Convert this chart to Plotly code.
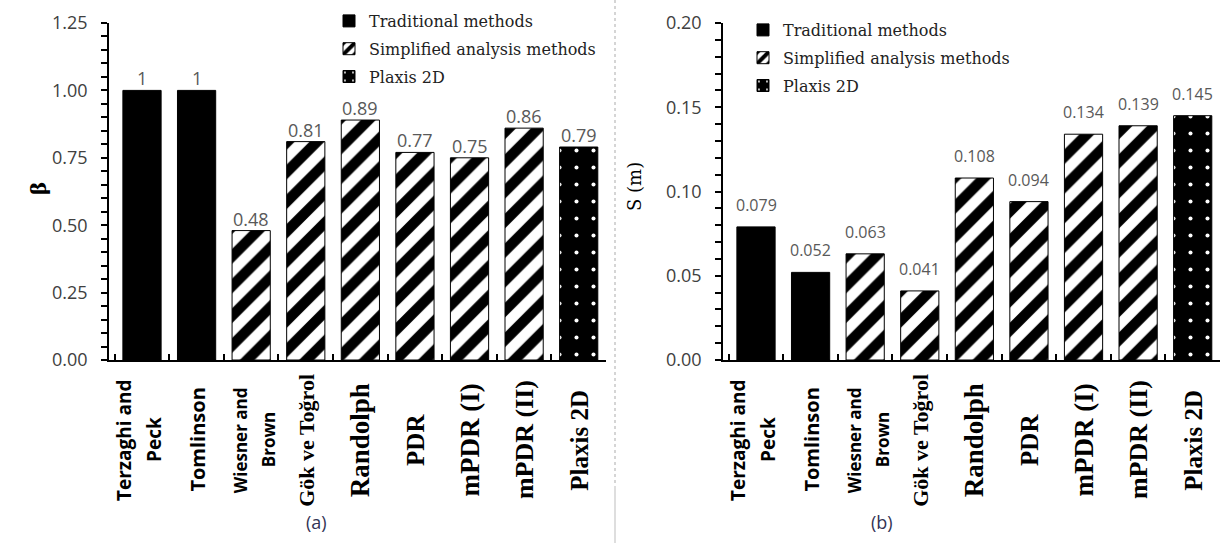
import plotly.graph_objects as go

# ---- data ----
methods = ["Terzaghi and Peck", "Tomlinson", "Wiesner and Brown", "Gök ve Toğrol",
           "Randolph", "PDR", "mPDR (I)", "mPDR (II)", "Plaxis 2D"]
method_group = ["Traditional methods", "Traditional methods",
                "Simplified analysis methods", "Simplified analysis methods",
                "Simplified analysis methods", "Simplified analysis methods",
                "Simplified analysis methods", "Simplified analysis methods",
                "Plaxis 2D"]
beta = [1, 1, 0.48, 0.81, 0.89, 0.77, 0.75, 0.86, 0.79]
settlement = [0.079, 0.052, 0.063, 0.041, 0.108, 0.094, 0.134, 0.139, 0.145]
group_order = ["Traditional methods", "Simplified analysis methods", "Plaxis 2D"]

# y-axis tick positions (labelled every `major`, small marks every `step`)
beta_ticks = dict(top=1.25, step=0.05, major=0.25)
settlement_ticks = dict(top=0.20, step=0.01, major=0.05)

# ---- styling ----
W, H = 1222, 543
SERIF = "DejaVu Serif"
SANS = "Open Sans"

def px_x(p):
    return p / W

def px_y(p):
    return (H - p) / H

def tick_setup(spec):
    n = int(round(spec["top"] / spec["step"]))
    per = int(round(spec["major"] / spec["step"]))
    vals = [round(i * spec["step"], 4) for i in range(n + 1)]
    text = [f"{v:.2f}" if i % per == 0 else "" for i, v in enumerate(vals)]
    return vals, text

group_marker = {
    "Traditional methods": dict(color="black", line=dict(color="black", width=1)),
    "Simplified analysis methods": dict(
        color="white", line=dict(color="black", width=1),
        pattern=dict(shape="/", fgcolor="black", bgcolor="white", fgopacity=1,
                     size=21, solidity=0.5)),
    "Plaxis 2D": dict(
        color="black", line=dict(color="black", width=1),
        pattern=dict(shape=".", fgcolor="white", bgcolor="black", fgopacity=1,
                     size=17, solidity=0.045)),
}

# category label lines, font family, size, and spacing between lines (px)
label_style = {
    "Terzaghi and Peck": (["Terzaghi and", "Peck"], "Open Sans", 19, 30, -3),
    "Tomlinson": (["Tomlinson"], "Open Sans", 20, 0, 0),
    "Wiesner and Brown": (["Wiesner and", "Brown"], "Open Sans", 17, 28, 3),
    "Gök ve Toğrol": (["Gök ve Toğrol"], "Liberation Serif", 22, 0, 0),
    "Randolph": (["Randolph"], "Liberation Serif", 27, 0, 0),
    "PDR": (["PDR"], "Liberation Serif", 25, 0, 0),
    "mPDR (I)": (["mPDR (I)"], "Liberation Serif", 27, 0, 0),
    "mPDR (II)": (["mPDR (II)"], "Liberation Serif", 26, 0, 0),
    "Plaxis 2D": (["Plaxis 2D"], "Liberation Serif", 25, 0, 0),
}

fig = go.Figure()

panels = [
    dict(values=beta, xa="x", ya="y", legend="legend", label_size=18, yshift=-2),
    dict(values=settlement, xa="x2", ya="y2", legend="legend2", label_size=16, yshift=9),
]

annotations = []
for p in panels:
    for g in group_order:
        xs = [m for m, gg in zip(methods, method_group) if gg == g]
        ys = [v for v, gg in zip(p["values"], method_group) if gg == g]
        fig.add_trace(go.Bar(
            x=xs, y=ys, name=g, marker=group_marker[g],
            xaxis=p["xa"], yaxis=p["ya"], legend=p["legend"],
            legendgroup=g, showlegend=True, hoverinfo="x+y",
        ))
    # value labels above bars
    for m, v in zip(methods, p["values"]):
        annotations.append(dict(
            x=m, y=v, xref=p["xa"], yref=p["ya"], text=f"{v:g}",
            showarrow=False, yanchor="bottom", yshift=p["yshift"],
            font=dict(family=SANS, size=p["label_size"], color="#595959"),
        ))
    # category labels, rotated and centred below the axis
    for m in methods:
        lines, fam, size, spacing, offset = label_style[m]
        n = len(lines)
        for i, line in enumerate(lines):
            annotations.append(dict(
                x=m, y=px_y(440), xref=p["xa"], yref="paper", text=f"<b>{line}</b>",
                xshift=offset + (i - (n - 1) / 2) * spacing,
                showarrow=False, textangle=-90, xanchor="center", yanchor="middle",
                font=dict(family=fam, size=size, color="black"),
            ))

# axis titles and panel captions
annotations += [
    dict(x=px_x(25), y=px_y(189), xref="paper", yref="paper", text="<b>β</b>",
         showarrow=False, textangle=-90, font=dict(family=SERIF, size=20, color="black")),
    dict(x=px_x(634), y=px_y(187), xref="paper", yref="paper", text="S (m)",
         showarrow=False, textangle=-90, font=dict(family=SERIF, size=18, color="black")),
    dict(x=px_x(304), y=px_y(522), xref="paper", yref="paper", text="(a)",
         showarrow=False, yanchor="middle", font=dict(family=SANS, size=18, color="#333355")),
    dict(x=px_x(895), y=px_y(522), xref="paper", yref="paper", text="(b)",
         showarrow=False, yanchor="middle", font=dict(family=SANS, size=18, color="#333355")),
]

xaxis_common = dict(
    type="category", categoryorder="array", categoryarray=methods,
    showline=True, linecolor="black", linewidth=1.5,
    ticks="inside", tickson="boundaries", ticklen=6, tickwidth=1.5, tickcolor="black",
    showticklabels=False, showgrid=False, zeroline=False, fixedrange=True,
)
yaxis_common = dict(
    showline=True, linecolor="black", linewidth=1.5,
    ticks="outside", ticklen=6, tickwidth=1.5, tickcolor="black",
    showgrid=False, zeroline=False, tickmode="array", ticklabelstandoff=10,
    tickfont=dict(family=SANS, size=18, color="#404040"),
)

legend_common = dict(
    font=dict(family=SERIF, size=16, color="#222222"),
    bgcolor="rgba(0,0,0,0)", tracegroupgap=4, itemclick=False,
    xanchor="left", yanchor="top", traceorder="grouped",
)

b_vals, b_text = tick_setup(beta_ticks)
s_vals, s_text = tick_setup(settlement_ticks)

fig.update_layout(
    width=W, height=H, margin=dict(l=0, r=0, t=0, b=0, autoexpand=False),
    paper_bgcolor="white", plot_bgcolor="white",
    barmode="overlay", bargap=0.3,
    xaxis=dict(domain=[px_x(109), px_x(606)], **xaxis_common),
    xaxis2=dict(domain=[px_x(723), px_x(1220)], anchor="y2", **xaxis_common),
    yaxis=dict(domain=[px_y(360), px_y(23)], range=[0, beta_ticks["top"]],
               tickvals=b_vals, ticktext=b_text, **yaxis_common),
    yaxis2=dict(domain=[px_y(360), px_y(23)], range=[0, settlement_ticks["top"]], anchor="x2",
                tickvals=s_vals, ticktext=s_text, **yaxis_common),
    legend=dict(x=px_x(329), y=px_y(4), **legend_common),
    legend2=dict(x=px_x(743), y=px_y(13), **legend_common),
    annotations=annotations,
    shapes=[
        dict(type="line", xref="paper", yref="paper", x0=px_x(615), x1=px_x(615),
             y0=px_y(0), y1=px_y(486), line=dict(color="#c8c8c8", width=1.5, dash="dot")),
        dict(type="line", xref="paper", yref="paper", x0=px_x(615), x1=px_x(615),
             y0=px_y(486), y1=px_y(543), line=dict(color="#c8c8c8", width=1.2)),
    ],
    showlegend=True,
)

fig.write_html("out.html")
